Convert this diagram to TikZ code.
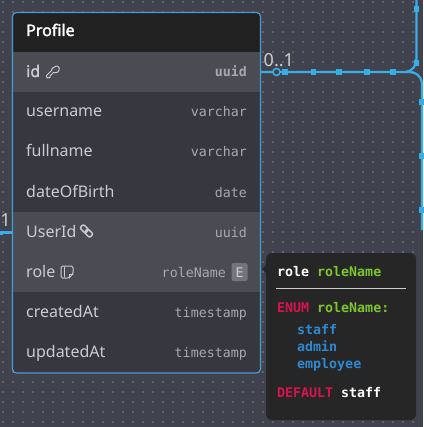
\documentclass[tikz,border=0pt]{standalone}
\usepackage{fontspec}
\setmainfont[BoldFont={Noto Sans},BoldFeatures={FakeBold=2}]{Noto Sans}
\setmonofont{DejaVu Sans Mono}
\definecolor{canvasbg}{HTML}{40434E}
\definecolor{griddot}{HTML}{5F626C}
\definecolor{rowdark}{HTML}{36373F}
\definecolor{rowlight}{HTML}{4A4B53}
\definecolor{headbg}{HTML}{212121}
\definecolor{edgeblue}{HTML}{38AEE6}
\definecolor{frameblue}{HTML}{4A9BD4}
\definecolor{nametxt}{HTML}{CCCCCE}
\definecolor{typetxt}{HTML}{A8A9AC}
\definecolor{tipbg}{HTML}{262626}
\definecolor{tipred}{HTML}{D8134F}
\definecolor{tipgreen}{HTML}{7CC52B}
\definecolor{tipblue}{HTML}{2F88D2}
\tikzset{
  x=1pt,y=-1pt,
  fieldname/.style={anchor=base west,inner sep=0pt,text=nametxt,font=\fontsize{16}{19}\selectfont},
  fieldtype/.style={anchor=base east,inner sep=0pt,text=typetxt,font=\ttfamily\fontsize{13.3}{16}\selectfont},
  tiptext/.style={anchor=base west,inner sep=0pt,font=\ttfamily\bfseries\fontsize{13.3}{16}\selectfont},
  edgeline/.style={draw=edgeblue,line width=2.2pt},
  handle/.style={fill=edgeblue,draw=none,minimum size=5.5pt,inner sep=0pt,shape=rectangle},
  iconline/.style={draw=nametxt,line width=1pt,line cap=round,line join=round},
  cardlabel/.style={inner sep=0pt,text=nametxt,font=\fontsize{18}{21}\selectfont}
}
\begin{document}
\begin{tikzpicture}
\useasboundingbox (0,0) rectangle (423,427);
\fill[canvasbg] (0,0) rectangle (423,427);
\foreach \i in {0,...,41}{\foreach \j in {0,...,42}{
  \fill[griddot] (3.3+10*\i-1,2.3+10*\j-1) rectangle ++(2,2);
}}
% table
\begin{scope}
\clip[rounded corners=4pt] (12.5,12.5) rectangle (260.5,373);
\fill[rowdark] (12,12) rectangle (261,374);
\fill[headbg] (12,12) rectangle (261,52);
\fill[rowlight] (12,52) rectangle (261,92);
\fill[rowlight] (12,212) rectangle (261,292);
\end{scope}
% connectors
\coordinate (topend) at (416.5,0);
\coordinate (join) at (406,72);
\coordinate (leftend) at (0,232.5);
\coordinate (tableleft) at (12.5,232.5);
\coordinate (tableright) at (260.5,72);
\draw[edgeline] (tableright) -- (join) .. controls (415,72) and (421,74) .. (422,84) -- (422,230);
\draw[edgeline] (topend) -- (416.5,58) .. controls (416.5,65) and (413,71) .. (join);
\draw[edgeline] (leftend) -- (tableleft);
\draw[draw=frameblue,line width=1.2pt,rounded corners=4pt] (12.5,12.5) rectangle (260.5,373);
\node[handle] (h1) at (285,72) {};
\node[handle] (h2) at (313.5,72) {};
\node[handle] (h3) at (339,72) {};
\node[handle] (h4) at (367,72) {};
\node[handle] (h5) at (393,72) {};
\node[handle] (h6) at (416.5,9) {};
\node[handle] (h7) at (416.5,63) {};
\node[handle] (h8) at (421.5,102) {};
\node[handle] (h9) at (421.5,156) {};
\node[handle] (h10) at (421.5,210) {};
\node[handle,minimum size=4pt] (h11) at (1,232.5) {};
\node[circle,draw=edgeblue,line width=1.6pt,fill=canvasbg,minimum size=7pt,inner sep=0pt] (hoop) at (276.5,72) {};
\node[cardlabel,anchor=base west] (card01) at (263.5,67) {0..1};
\node[cardlabel,anchor=base west] (card1) at (0.2,226) {1};
% header and fields
\node[anchor=base west,inner sep=0pt,text=white,font=\bfseries\fontsize{16}{19}\selectfont] (title) at (26,36) {Profile};
\node[fieldname,font=\bfseries\fontsize{16}{19}\selectfont] (fid) at (26,77) {id};
\node[fieldtype,font=\ttfamily\bfseries\fontsize{13.3}{16}\selectfont] (tid) at (247,77) {uuid};
\node[fieldname] (fusername) at (26,117) {username};
\node[fieldtype] (tusername) at (247,117) {varchar};
\node[fieldname] (ffullname) at (26,157) {fullname};
\node[fieldtype] (tfullname) at (247,157) {varchar};
\node[fieldname] (fdob) at (26,197) {dateOfBirth};
\node[fieldtype] (tdob) at (247,197) {date};
\node[fieldname] (fuserid) at (26,237) {UserId};
\node[fieldtype] (tuserid) at (247,237) {uuid};
\node[fieldname] (frole) at (26,277) {role};
\node[fieldtype] (trole) at (226,277) {roleName};
\node[fieldname] (fcreated) at (26,317) {createdAt};
\node[fieldtype] (tcreated) at (247,317) {timestamp};
\node[fieldname] (fupdated) at (26,357) {updatedAt};
\node[fieldtype] (tupdated) at (247,357) {timestamp};
% enum badge
\fill[rounded corners=2pt,fill=typetxt!45!rowlight] (231.5,263) rectangle (247.5,281);
\node[anchor=base,inner sep=0pt,text=nametxt,font=\ttfamily\fontsize{13.3}{16}\selectfont] (badge) at (239.5,277) {E};
% key icon
\draw[iconline] (54.5,67) .. controls (57,64.5) and (60,67) .. (59,70) .. controls (58.2,73) and (55,73.5) .. (53.5,72.5)
  -- (50,76) -- (50,77.5) -- (47,78) -- (46.5,75.5) -- (51.5,70.5) .. controls (51.3,69) and (52.5,67.7) .. (54.5,67) -- cycle;
% link icon
\begin{scope}[shift={(86.5,231)},rotate=-45]
\draw[iconline,line width=1.5pt,rounded corners=2pt] (-7,-2.6) rectangle (0.8,2.6);
\draw[iconline,line width=1.5pt,rounded corners=2pt] (-0.8,-2.6) rectangle (7,2.6);
\end{scope}
% note icon
\draw[iconline,rounded corners=1.5pt] (61,266) -- (61,278) -- (69,278) -- (73,274) -- (73,266) -- cycle;
\draw[iconline] (69,278) -- (69,274) -- (73,274);
\draw[iconline] (64,267) -- (64,277);
% tooltip
\fill[tipbg,rounded corners=6pt] (266,253) rectangle (416,420);
\fill[tipbg] (266,265) -- (262,269) -- (266,273) -- cycle;
\draw[draw=nametxt,line width=1.4pt] (276,288.5) -- (406,288.5);
\node[tiptext,text=white] (tiprole) at (277,276) {role};
\node[tiptext,text=tipgreen] (tiptype) at (317,276) {roleName};
\node[tiptext,text=tipred] (tipenum) at (277,312) {ENUM};
\node[tiptext,text=tipgreen] (tipname) at (317,312) {roleName:};
\node[tiptext,text=tipblue] (tipa) at (297,334) {staff};
\node[tiptext,text=tipblue] (tipb) at (297,351) {admin};
\node[tiptext,text=tipblue] (tipc) at (297,368) {employee};
\node[tiptext,text=tipred] (tipdef) at (277,397) {DEFAULT};
\node[tiptext,text=white] (tipstaff) at (341,397) {staff};
\end{tikzpicture}
\end{document}
